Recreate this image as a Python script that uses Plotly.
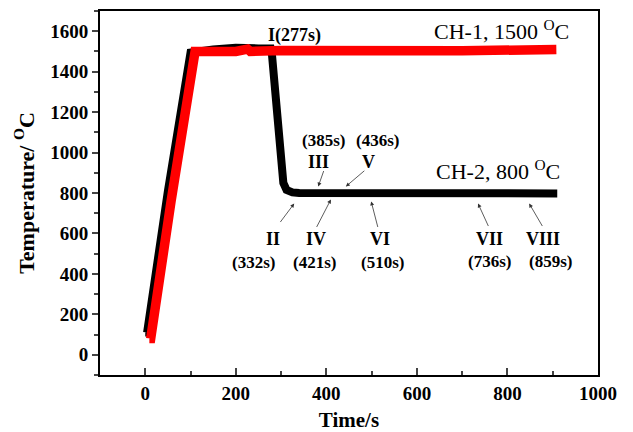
import plotly.graph_objects as go

# CH-2 (black): heated to ~1500 then quenched to 800
ch2_t = [0, 4, 50, 95, 100, 150, 200, 250, 277, 280, 288, 299, 305, 312, 325, 340, 400, 500, 600, 700, 800, 910]
ch2_T = [110, 110, 810, 1480, 1495, 1510, 1518, 1515, 1515, 1480, 1250, 1000, 850, 815, 803, 800, 800, 800, 800, 800, 800, 798]

# CH-1 (red): heated to 1500 and held
ch1_t = [9, 12, 57, 105, 110, 150, 200, 226, 232, 300, 500, 700, 908]
ch1_T = [80, 80, 760, 1490, 1500, 1500, 1500, 1512, 1500, 1505, 1502, 1503, 1510]

x_ticks = [0, 200, 400, 600, 800, 1000]
y_ticks = [0, 200, 400, 600, 800, 1000, 1200, 1400, 1600]

FONT = "Liberation Serif, Times New Roman, Tinos, serif"

fig = go.Figure()
fig.add_trace(go.Scatter(x=ch2_t, y=ch2_T, mode="lines",
                         line=dict(color="black", width=8), showlegend=False))
fig.add_trace(go.Scatter(x=ch1_t, y=ch1_T, mode="lines",
                         line=dict(color="#ff0000", width=9.5), showlegend=False))

# text labels: (text, x, y, size, bold)
labels = [
    ("I(277s)", 330, 1581, 18, True),
    ("(385s)", 393, 1062, 17, True),
    ("(436s)", 512, 1062, 17, True),
    ("III", 382, 954, 18, True),
    ("V", 494, 954, 18, True),
    ("II", 282, 572, 18, True),
    ("(332s)", 240, 454, 17, True),
    ("IV", 377, 572, 18, True),
    ("(421s)", 373, 454, 17, True),
    ("VI", 519, 572, 18, True),
    ("(510s)", 523, 454, 17, True),
    ("VII", 760, 572, 18, True),
    ("(736s)", 760, 459, 17, True),
    ("VIII", 879, 572, 18, True),
    ("(859s)", 896, 459, 17, True),
    ("CH-1, 1500 <sup>O</sup>C", 786, 1606, 22, False),
    ("CH-2, 800 <sup>O</sup>C", 780, 915, 22, False),
]
for txt, x, y, s, b in labels:
    fig.add_annotation(x=x, y=y, text=f"<b>{txt}</b>" if b else txt, showarrow=False,
                       font=dict(family=FONT, size=s, color="black"),
                       xanchor="center", yanchor="middle")

# arrows: tip (x, y) in data, tail offset (ax, ay) in pixels
arrows = [
    (382, 832, 6, -17),
    (443, 832, 20, -17),
    (329, 748, -15, 20),
    (410, 768, -15, 29),
    (499, 758, 7, 27),
    (735, 748, 11, 24),
    (848, 748, 14, 24),
]
for x, y, ax, ay in arrows:
    fig.add_annotation(x=x, y=y, ax=ax, ay=ay, text="", showarrow=True,
                       arrowhead=2, arrowsize=1, arrowwidth=0.8, arrowcolor="#333333")

# page body has an 8px margin, so the figure is sized to fit the 633x432 window
fig.update_layout(
    width=625, height=424,
    margin=dict(l=92, r=35, t=1, b=57),
    paper_bgcolor="white", plot_bgcolor="white",
    font=dict(family=FONT, size=19, color="black"),
)
fig.update_xaxes(
    range=[-100, 1000], tickvals=x_ticks, ticks="inside", ticklen=7, tickwidth=2,
    minor=dict(dtick=100, ticks="inside", ticklen=4, tickwidth=2, tick0=0),
    showline=True, linewidth=2, linecolor="black", mirror=True, showgrid=False, zeroline=False,
    tickfont=dict(family=FONT, size=19, weight="bold"),
    title=dict(text="<b>Time/s</b>", font=dict(family=FONT, size=21), standoff=10),
)
fig.update_yaxes(
    range=[-100, 1700], tickvals=y_ticks, ticks="outside", ticklen=6, tickwidth=2,
    minor=dict(dtick=100, ticks="outside", ticklen=4, tickwidth=2, tick0=0),
    showline=True, linewidth=2, linecolor="black", mirror=True, showgrid=False, zeroline=False,
    tickfont=dict(family=FONT, size=19, weight="bold"),
    title=dict(text="<b>Temperature/ <sup>O</sup>C</b>", font=dict(family=FONT, size=22), standoff=10),
)

fig.write_html("out.html")
